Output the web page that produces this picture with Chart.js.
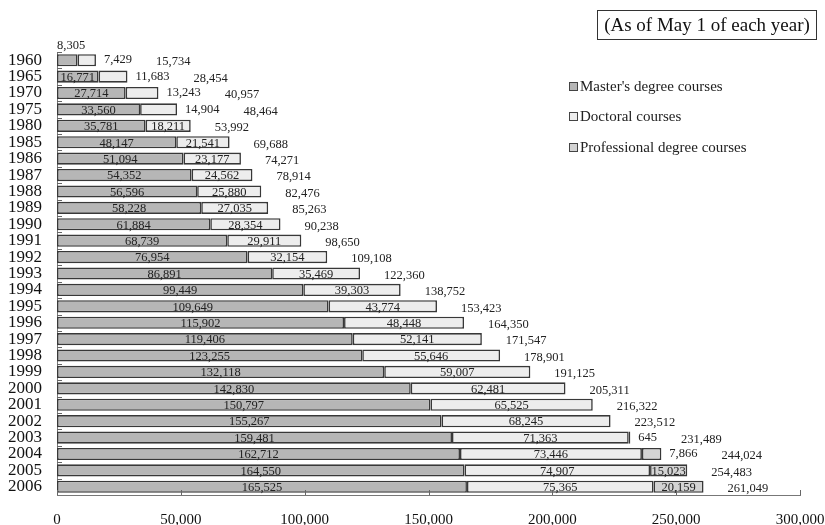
<!DOCTYPE html>
<html>
<head>
<meta charset="utf-8">
<script src="https://cdn.jsdelivr.net/npm/chart.js@4"></script>
<style>
  body { margin: 0; background: #fff; }
  #wrap { position: relative; width: 825px; height: 525px; }
  #note {
    position: absolute; left: 597px; top: 10px; width: 218px; height: 28px;
    border: 1.5px solid #333; font: 19px "Liberation Serif", "Times New Roman", serif;
    line-height: 28px; text-align: center; color: #111;
  }
  #legend { position: absolute; left: 569px; top: 71px; font: 15px "Liberation Serif", "Times New Roman", serif; color: #222; }
  #legend div { height: 30.5px; display: flex; align-items: center; }
  #legend i { display: inline-block; width: 7px; height: 7px; border: 1px solid #444; margin-right: 2px; }
</style>
</head>
<body>
<div id="wrap">
  <canvas id="c" width="825" height="525"></canvas>
  <div id="note">(As of May 1 of each year)</div>
  <div id="legend"></div>
</div>
<script>
// Graduate school enrolment by course type
const years = ['1960', '1965', '1970', '1975', '1980', '1985', '1986', '1987', '1988', '1989',
  '1990', '1991', '1992', '1993', '1994', '1995', '1996', '1997', '1998', '1999',
  '2000', '2001', '2002', '2003', '2004', '2005', '2006'];
const masters = [8305, 16771, 27714, 33560, 35781, 48147, 51094, 54352, 56596, 58228,
  61884, 68739, 76954, 86891, 99449, 109649, 115902, 119406, 123255, 132118,
  142830, 150797, 155267, 159481, 162712, 164550, 165525];
const doctoral = [7429, 11683, 13243, 14904, 18211, 21541, 23177, 24562, 25880, 27035,
  28354, 29911, 32154, 35469, 39303, 43774, 48448, 52141, 55646, 59007,
  62481, 65525, 68245, 71363, 73446, 74907, 75365];
const professional = [null, null, null, null, null, null, null, null, null, null,
  null, null, null, null, null, null, null, null, null, null,
  null, null, null, 645, 7866, 15023, 20159];
const totals = [15734, 28454, 40957, 48464, 53992, 69688, 74271, 78914, 82476, 85263,
  90238, 98650, 109108, 122360, 138752, 153423, 164350, 171547, 178901, 191125,
  205311, 216322, 223512, 231489, 244024, 254483, 261049];
const xTicks = [0, 50000, 100000, 150000, 200000, 250000, 300000];

const SERIF = '"Liberation Serif", "Times New Roman", serif';
const fmt = v => v.toLocaleString('en-US');

// value labels: inside the segment when it fits, otherwise beside it; total after the stack
const segmentLabels = {
  id: 'segmentLabels',
  afterDatasetsDraw(chart) {
    const { ctx } = chart;
    const sets = chart.data.datasets;
    const metas = sets.map((_, i) => chart.getDatasetMeta(i));
    ctx.save();
    ctx.font = '12.5px ' + SERIF;
    ctx.fillStyle = '#222';
    ctx.textBaseline = 'middle';
    years.forEach((_, i) => {
      let end = 0, cursor = 0, y = 0;
      metas.forEach((meta, di) => {
        const v = sets[di].data[i];
        if (v == null) return;
        const bar = meta.data[i];
        const left = Math.min(bar.base, bar.x), right = Math.max(bar.base, bar.x);
        const txt = fmt(v);
        const tw = ctx.measureText(txt).width;
        y = bar.y;
        end = right;
        if (right - left >= tw + 2.7) {
          ctx.textAlign = 'center';
          ctx.fillText(txt, (left + right) / 2, y + 1);
        } else if (di === 0) {
          ctx.textAlign = 'left';
          ctx.fillText(txt, left, y - 14);
        } else {
          ctx.textAlign = 'left';
          ctx.fillText(txt, right + 8, y);
          cursor = right + 8 + tw;
        }
      });
      ctx.textAlign = 'left';
      ctx.fillText(fmt(totals[i]), Math.max(end, cursor) + 24, y + 2);
    });
    ctx.restore();
  },
};

// short inward ticks on both axes
const innerTicks = {
  id: 'innerTicks',
  afterDraw(chart) {
    const { ctx, chartArea: a, scales: { x } } = chart;
    const step = (a.bottom - a.top) / years.length;
    ctx.save();
    ctx.strokeStyle = '#666';
    ctx.lineWidth = 1;
    ctx.beginPath();
    years.forEach((_, i) => {
      const yy = Math.round(a.top + i * step) + 0.5;
      ctx.moveTo(a.left, yy);
      ctx.lineTo(a.left + 5, yy);
    });
    xTicks.forEach(v => {
      const xx = Math.round(x.getPixelForValue(v)) + 0.5;
      ctx.moveTo(xx, a.bottom);
      ctx.lineTo(xx, a.bottom - 5);
    });
    ctx.stroke();
    ctx.restore();
  },
};

const colors = { master: '#b6b6b6', doctoral: '#ededed', prof: '#d3d3d3', edge: '#383838' };

const chart = new Chart(document.getElementById('c'), {
  type: 'bar',
  data: {
    labels: years,
    datasets: [
      { label: "Master's degree courses", data: masters, backgroundColor: colors.master },
      { label: 'Doctoral courses', data: doctoral, backgroundColor: colors.doctoral },
      { label: 'Professional degree courses', data: professional, backgroundColor: colors.prof },
    ].map(d => Object.assign(d, {
      borderColor: colors.edge, borderWidth: 1.6, borderSkipped: false,
      categoryPercentage: 1, barPercentage: 0.74,
    })),
  },
  options: {
    indexAxis: 'y',
    responsive: false,
    animation: false,
    layout: { padding: { top: 52, right: 25, left: 0, bottom: 0 } },
    plugins: { legend: { display: false }, tooltip: { enabled: false } },
    scales: {
      x: {
        stacked: true, min: 0, max: 300000,
        afterBuildTicks: s => { s.ticks = xTicks.map(v => ({ value: v })); },
        afterFit: s => { s.height = 30; s.paddingLeft = 0; s.paddingRight = 0; },
        grid: { display: false, drawTicks: false },
        border: { display: true, color: '#777', width: 1 },
        ticks: { padding: 16, color: '#111', font: { family: SERIF, size: 15 }, callback: v => fmt(v), maxRotation: 0, autoSkip: false },
      },
      y: {
        stacked: true,
        afterFit: s => { s.width = 57; s.paddingTop = 0; s.paddingBottom = 0; },
        grid: { display: false, drawTicks: false },
        border: { display: true, color: '#777', width: 1 },
        ticks: { padding: 15, color: '#111', autoSkip: false, font: { family: SERIF, size: 17 } },
      },
    },
  },
  plugins: [segmentLabels, innerTicks],
});

// legend sits inside the plot on the right
document.getElementById('legend').innerHTML = chart.data.datasets
  .map(d => `<div><i style="background:${d.backgroundColor}"></i>${d.label}</div>`).join('');
</script>
</body>
</html>
